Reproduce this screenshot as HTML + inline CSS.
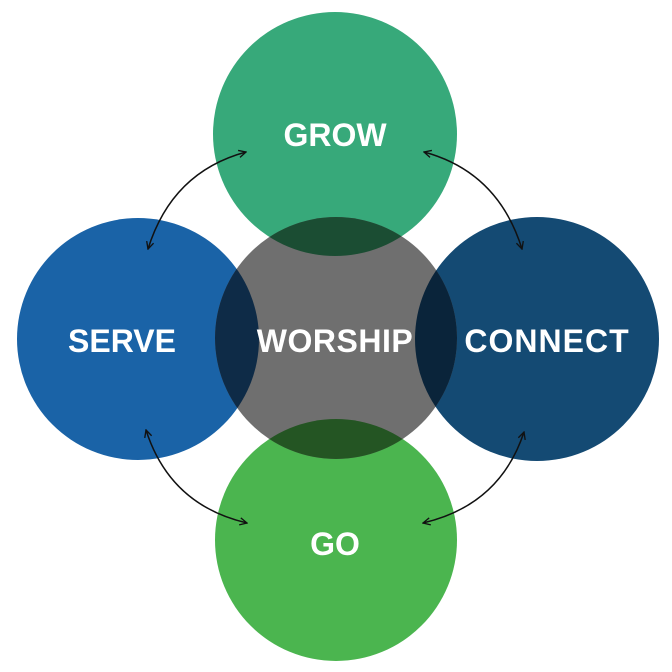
<!DOCTYPE html>
<html><head><meta charset="utf-8"><style>
html,body{margin:0;padding:0;background:#fff;}
svg{display:block;}
text{font-family:"Liberation Sans",sans-serif;font-weight:bold;fill:#fff;font-size:32px;text-anchor:middle;}
</style></head><body>
<svg width="672" height="672" viewBox="0 0 672 672" xmlns="http://www.w3.org/2000/svg">
<defs>
<clipPath id="w"><circle cx="336" cy="338" r="121"/></clipPath>
<marker id="a" viewBox="0 0 10 10" refX="9" refY="5" markerWidth="9" markerHeight="9" orient="auto-start-reverse" markerUnits="userSpaceOnUse">
<path d="M1,1 L9,5 L1,9" fill="none" stroke="#111" stroke-width="1.5"/>
</marker>
</defs>
<circle cx="335" cy="134" r="122" fill="#37a97a"/>
<circle cx="138" cy="339" r="121" fill="#1a63a7"/>
<circle cx="537" cy="339" r="122" fill="#144a73"/>
<circle cx="336" cy="540" r="121" fill="#4bb54f"/>
<circle cx="336" cy="338" r="121" fill="#6f6f6f"/>
<g clip-path="url(#w)">
<circle cx="335" cy="134" r="122" fill="#1b4d33"/>
<circle cx="138" cy="339" r="121" fill="#0e2b47"/>
<circle cx="537" cy="339" r="122" fill="#0a243a"/>
<circle cx="336" cy="540" r="121" fill="#245523"/>
</g>
<g fill="none" stroke="#111" stroke-width="1.5">
<path d="M246,152 Q172,172 148,249" marker-start="url(#a)" marker-end="url(#a)"/>
<path d="M424,152 Q498,172 522,249" marker-start="url(#a)" marker-end="url(#a)"/>
<path d="M146,430 Q170,505 247,523" marker-start="url(#a)" marker-end="url(#a)"/>
<path d="M524,432 Q500,505 423,523" marker-start="url(#a)" marker-end="url(#a)"/>
</g>
<text x="335" y="146">GROW</text>
<text x="122" y="352">SERVE</text>
<text x="335" y="352" letter-spacing="0.5">WORSHIP</text>
<text x="547" y="352" letter-spacing="1">CONNECT</text>
<text x="335" y="555">GO</text>
</svg>
</body></html>
